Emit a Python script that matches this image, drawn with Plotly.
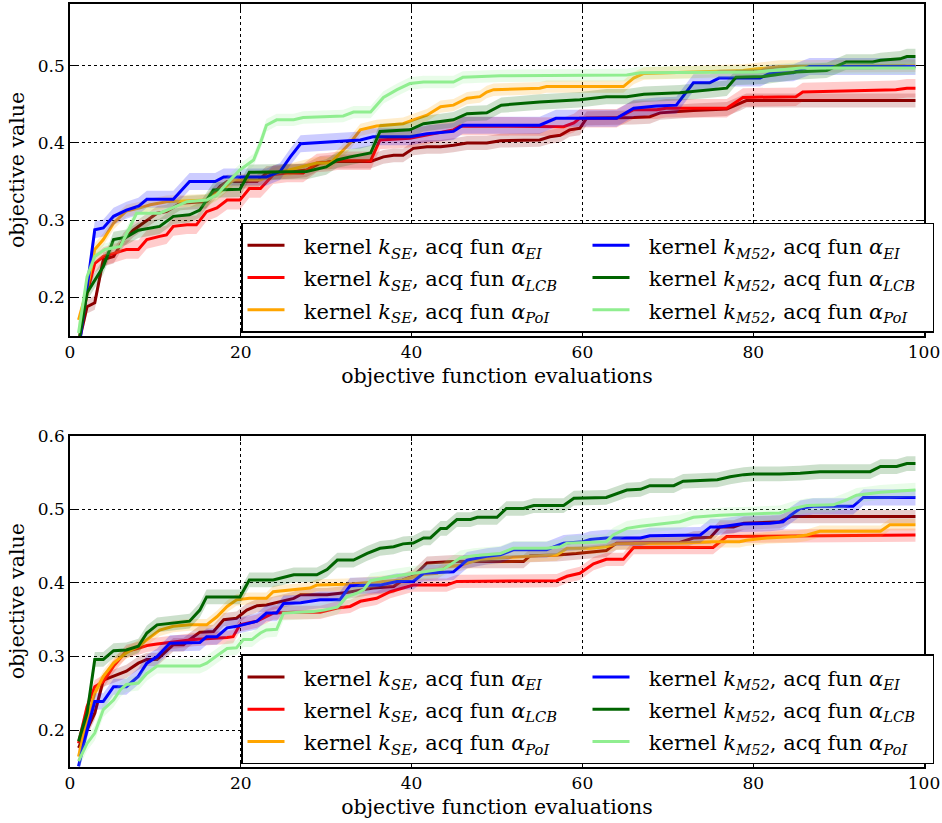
import plotly.graph_objects as go

# ---------------- data ----------------
series_names = ["SE_EI", "SE_LCB", "SE_PoI", "M52_EI", "M52_LCB", "M52_PoI"]
series_labels = [
    "kernel <i>k</i><sub><i>SE</i></sub>, acq fun <i>α</i><sub><i>EI</i></sub>",
    "kernel <i>k</i><sub><i>SE</i></sub>, acq fun <i>α</i><sub><i>LCB</i></sub>",
    "kernel <i>k</i><sub><i>SE</i></sub>, acq fun <i>α</i><sub><i>PoI</i></sub>",
    "kernel <i>k</i><sub><i>M52</i></sub>, acq fun <i>α</i><sub><i>EI</i></sub>",
    "kernel <i>k</i><sub><i>M52</i></sub>, acq fun <i>α</i><sub><i>LCB</i></sub>",
    "kernel <i>k</i><sub><i>M52</i></sub>, acq fun <i>α</i><sub><i>PoI</i></sub>",
]
series_colors = ["#8B0000", "#FF0000", "#FFA500", "#0000FF", "#006400", "#90EE90"]
legend_ranks = [1, 3, 5, 2, 4, 6]

# ---- top panel ----
top_se_ei_x = [1, 2, 2.9, 3.9, 5.1, 6.3, 7.4, 9, 10.2, 11.3, 12.9, 16, 17.6, 18.4, 21.9, 23, 26.2, 27.7, 29.3, 31.3, 35.2, 36.7, 37.9, 39, 40.2, 41.8, 43.4, 44.9, 46.5, 48.8, 50.4, 55, 56.2, 57.4, 58.5, 59.7, 60.5, 66, 67.9, 69.1, 73, 76.9, 78.5, 79.2, 99]
top_se_ei_y = [0.14, 0.188, 0.193, 0.249, 0.253, 0.275, 0.287, 0.3, 0.309, 0.311, 0.322, 0.324, 0.344, 0.35, 0.35, 0.361, 0.363, 0.365, 0.374, 0.376, 0.376, 0.382, 0.384, 0.384, 0.393, 0.395, 0.395, 0.397, 0.4, 0.4, 0.403, 0.404, 0.408, 0.41, 0.417, 0.419, 0.432, 0.433, 0.434, 0.439, 0.442, 0.444, 0.451, 0.455, 0.455]

top_se_lcb_x = [1, 2, 2.9, 3.9, 5.1, 6.6, 8, 9, 10.5, 11.3, 12.1, 13.7, 14.8, 16, 17.2, 18.4, 19.9, 21, 22.3, 23.8, 25.4, 27.3, 28.9, 30.1, 31.3, 35.2, 36.3, 37.9, 39.8, 44.9, 45.7, 57.8, 59, 59.7, 64, 66, 68.7, 69.8, 76.9, 78.8, 85, 85.8, 96.7, 98, 99]
top_se_lcb_y = [0.14, 0.206, 0.244, 0.253, 0.257, 0.262, 0.262, 0.275, 0.279, 0.281, 0.292, 0.294, 0.294, 0.311, 0.316, 0.326, 0.326, 0.341, 0.341, 0.359, 0.361, 0.361, 0.374, 0.375, 0.377, 0.377, 0.404, 0.405, 0.406, 0.417, 0.422, 0.421, 0.426, 0.432, 0.432, 0.443, 0.443, 0.445, 0.445, 0.459, 0.46, 0.466, 0.469, 0.471, 0.471]

top_se_poi_x = [1, 2, 2.9, 3.9, 5.1, 6.6, 8.2, 9.4, 11.3, 16, 17.6, 19.1, 22.3, 23.8, 28.9, 30.5, 32.8, 34, 35.9, 39, 40.2, 41.8, 43.4, 44.9, 46.5, 48, 48.8, 49.6, 55, 55.8, 64.8, 66, 67.2, 78.8, 80.5, 83.1, 99]
top_se_poi_y = [0.171, 0.21, 0.262, 0.275, 0.296, 0.312, 0.316, 0.32, 0.324, 0.326, 0.337, 0.352, 0.352, 0.36, 0.374, 0.374, 0.4, 0.417, 0.422, 0.425, 0.43, 0.436, 0.447, 0.449, 0.458, 0.46, 0.466, 0.469, 0.471, 0.473, 0.473, 0.484, 0.49, 0.494, 0.496, 0.499, 0.5]

top_m52_ei_x = [1, 2.9, 3.9, 5.1, 6.6, 8, 9, 12.1, 14, 17, 18, 23, 24.6, 25.8, 27, 28.5, 34, 35.5, 39.8, 41.8, 44.9, 46, 55, 56.9, 64, 66, 68.7, 71, 73, 74.9, 76, 80.8, 81.9, 84.7, 86.6, 99]
top_m52_ei_y = [0.13, 0.2875, 0.29, 0.305, 0.313, 0.318, 0.327, 0.327, 0.35, 0.35, 0.356, 0.356, 0.363, 0.382, 0.399, 0.4, 0.404, 0.408, 0.408, 0.412, 0.415, 0.423, 0.423, 0.432, 0.432, 0.445, 0.448, 0.449, 0.478, 0.478, 0.484, 0.484, 0.49, 0.491, 0.499, 0.499]

top_m52_lcb_x = [1, 2, 3.9, 5.1, 6.6, 8, 10.5, 12.1, 14, 15.2, 16.8, 19.9, 21, 27.7, 30, 31.3, 32.8, 35.2, 36.3, 39.8, 41.4, 44.9, 46.5, 48.8, 50.5, 55, 59.7, 61.3, 62.8, 65.2, 67.2, 71.4, 75.3, 76.9, 78, 81.2, 83.1, 85, 88.6, 90.9, 94, 94.9, 97.2, 98, 99]
top_m52_lcb_y = [0.14, 0.206, 0.24, 0.275, 0.278, 0.287, 0.292, 0.305, 0.307, 0.313, 0.339, 0.34, 0.362, 0.363, 0.369, 0.378, 0.382, 0.387, 0.415, 0.417, 0.425, 0.43, 0.438, 0.439, 0.449, 0.453, 0.456, 0.458, 0.46, 0.46, 0.463, 0.465, 0.469, 0.471, 0.485, 0.486, 0.489, 0.492, 0.494, 0.505, 0.505, 0.507, 0.509, 0.512, 0.512]

top_m52_poi_x = [1, 2, 2.9, 4.1, 5.9, 7.8, 10.5, 12.1, 13.7, 16, 17.2, 18.4, 19.9, 21.5, 22.3, 23, 24.2, 26.2, 27.3, 32, 33.2, 35.2, 36.7, 38.3, 39.8, 41.4, 44.9, 46, 50.4, 65.2, 66.8, 80.5, 85.6, 99]
top_m52_poi_y = [0.154, 0.227, 0.253, 0.262, 0.266, 0.309, 0.309, 0.316, 0.324, 0.326, 0.333, 0.348, 0.365, 0.378, 0.4, 0.423, 0.43, 0.43, 0.433, 0.435, 0.44, 0.44, 0.459, 0.469, 0.477, 0.479, 0.479, 0.485, 0.487, 0.488, 0.491, 0.492, 0.497, 0.497]

top_err = [0.009, 0.012, 0.008, 0.011, 0.01, 0.008]

# ---- bottom panel ----
bot_se_ei_x = [1, 2, 2.9, 3.9, 5.1, 6.6, 8, 9, 10.2, 11.3, 12.1, 13.3, 14, 15.2, 16.8, 18, 19.5, 20.7, 21.9, 23, 24.6, 26.2, 27, 30.1, 32.4, 35.5, 37.9, 39, 40.2, 41, 41.8, 44.9, 53.1, 53.9, 57, 59.3, 62.8, 64, 71.4, 73, 75, 76.1, 77.7, 78.9, 83.1, 84.4, 99]
bot_se_ei_y = [0.176, 0.2, 0.223, 0.268, 0.273, 0.28, 0.291, 0.296, 0.296, 0.307, 0.316, 0.316, 0.323, 0.333, 0.334, 0.35, 0.352, 0.363, 0.369, 0.37, 0.375, 0.379, 0.384, 0.384, 0.387, 0.393, 0.395, 0.404, 0.409, 0.418, 0.427, 0.429, 0.429, 0.437, 0.438, 0.44, 0.444, 0.454, 0.455, 0.461, 0.462, 0.476, 0.476, 0.481, 0.483, 0.49, 0.49]

bot_se_lcb_x = [1, 2, 2.9, 3.9, 5.1, 6.6, 8, 9, 10.2, 14.5, 18.4, 19.1, 19.9, 21.9, 23.8, 26.2, 29.3, 31.3, 32.8, 34, 35.9, 37.5, 39, 40.2, 44.1, 45.3, 57, 58.2, 59.7, 61.3, 62.8, 64.8, 66, 75.3, 76.9, 99]
bot_se_lcb_y = [0.182, 0.232, 0.259, 0.266, 0.287, 0.307, 0.311, 0.315, 0.317, 0.323, 0.326, 0.327, 0.343, 0.348, 0.359, 0.36, 0.36, 0.366, 0.368, 0.375, 0.379, 0.388, 0.393, 0.397, 0.397, 0.402, 0.403, 0.409, 0.413, 0.426, 0.432, 0.432, 0.448, 0.448, 0.463, 0.465]

bot_se_poi_x = [1, 2, 2.9, 3.9, 5.1, 6.6, 8, 9, 10.5, 12.1, 14, 16, 17.2, 18.4, 19.5, 21, 23, 23.8, 26.2, 28.1, 28.9, 32.4, 39, 41, 43, 44.1, 45.7, 48, 53.1, 57, 58.2, 60.9, 62.8, 64, 71.4, 75.3, 78.4, 79.2, 81.6, 85.1, 86.3, 87.8, 94.9, 96, 99]
bot_se_poi_y = [0.164, 0.214, 0.25, 0.273, 0.291, 0.305, 0.314, 0.323, 0.336, 0.341, 0.343, 0.343, 0.354, 0.368, 0.377, 0.379, 0.379, 0.388, 0.391, 0.393, 0.397, 0.398, 0.404, 0.411, 0.413, 0.422, 0.424, 0.432, 0.436, 0.438, 0.447, 0.447, 0.449, 0.453, 0.454, 0.456, 0.456, 0.458, 0.461, 0.463, 0.465, 0.47, 0.47, 0.479, 0.479]

bot_m52_ei_x = [1, 2, 2.9, 3.9, 5.1, 6.6, 8, 9, 10.2, 11.7, 15.2, 16, 17.2, 18.4, 19.5, 20.7, 21.9, 23, 24.2, 25, 27, 29.3, 31.6, 32.8, 36.3, 38.3, 40.2, 41.4, 42.6, 44.9, 46.5, 48.8, 50.4, 51.9, 55.8, 57.8, 60.1, 60.9, 62.8, 66.8, 67.9, 73.8, 75, 76.1, 78.5, 82, 83.5, 84.4, 85.5, 87, 91.7, 92.9, 99]
bot_m52_ei_y = [0.151, 0.2, 0.239, 0.239, 0.259, 0.259, 0.273, 0.291, 0.3, 0.318, 0.319, 0.327, 0.327, 0.339, 0.341, 0.345, 0.348, 0.359, 0.359, 0.372, 0.373, 0.377, 0.377, 0.396, 0.397, 0.402, 0.402, 0.413, 0.414, 0.415, 0.431, 0.436, 0.438, 0.445, 0.445, 0.454, 0.456, 0.459, 0.461, 0.461, 0.464, 0.465, 0.476, 0.476, 0.48, 0.481, 0.483, 0.492, 0.501, 0.504, 0.504, 0.516, 0.516]

bot_m52_lcb_x = [1, 2, 2.9, 3.9, 5.1, 6.6, 8, 9, 10.2, 12.1, 14, 15.2, 16, 19.9, 21, 23.8, 26.2, 28.9, 30.1, 31.3, 33.2, 34.8, 36.3, 37.9, 39, 40.2, 41.4, 42.2, 43.4, 44.1, 45.3, 46.9, 47.7, 50, 51.1, 53.1, 54.3, 57.8, 59, 62.8, 64, 65.2, 66.8, 67.9, 70.7, 71.8, 75.8, 77.3, 78.9, 80, 83.1, 85.5, 87.8, 93.7, 94.9, 96.8, 98, 99]
bot_m52_lcb_y = [0.185, 0.223, 0.296, 0.296, 0.308, 0.309, 0.314, 0.332, 0.343, 0.345, 0.348, 0.363, 0.381, 0.381, 0.404, 0.404, 0.411, 0.411, 0.418, 0.431, 0.431, 0.44, 0.447, 0.449, 0.453, 0.454, 0.461, 0.461, 0.474, 0.474, 0.486, 0.486, 0.489, 0.489, 0.501, 0.501, 0.505, 0.505, 0.515, 0.516, 0.521, 0.526, 0.527, 0.532, 0.532, 0.538, 0.54, 0.544, 0.547, 0.548, 0.548, 0.549, 0.551, 0.551, 0.558, 0.558, 0.562, 0.562]

bot_m52_poi_x = [1, 2, 2.9, 3.9, 5.1, 5.9, 6.6, 8, 9, 10.2, 15.2, 16, 17.2, 18.4, 19.5, 20.3, 21.3, 22.3, 23, 24.2, 25, 28.5, 29.7, 31.3, 32.4, 33.6, 34.4, 35.2, 37.9, 40.2, 41.8, 43.8, 45.7, 47.3, 50.4, 51.9, 55.8, 57.4, 58.2, 62.8, 63.6, 65.2, 66.8, 71.4, 73, 76.1, 83.1, 84.7, 86.3, 89.4, 91, 92.1, 94.9, 98, 99]
bot_m52_poi_y = [0.158, 0.182, 0.196, 0.228, 0.241, 0.255, 0.262, 0.264, 0.277, 0.287, 0.287, 0.291, 0.301, 0.311, 0.312, 0.323, 0.323, 0.332, 0.336, 0.337, 0.359, 0.361, 0.363, 0.367, 0.381, 0.386, 0.391, 0.403, 0.409, 0.413, 0.415, 0.419, 0.434, 0.437, 0.44, 0.447, 0.447, 0.449, 0.454, 0.456, 0.465, 0.474, 0.477, 0.483, 0.489, 0.492, 0.495, 0.501, 0.505, 0.506, 0.513, 0.519, 0.523, 0.526, 0.526]

bot_err = [0.009, 0.009, 0.008, 0.011, 0.01, 0.01]

x_ticks = [0, 20, 40, 60, 80, 100]
top_y_ticks = [0.2, 0.3, 0.4, 0.5]
bot_y_ticks = [0.2, 0.3, 0.4, 0.5, 0.6]
x_title = "objective function evaluations"
y_title = "objective value"

top_series = [(top_se_ei_x, top_se_ei_y), (top_se_lcb_x, top_se_lcb_y), (top_se_poi_x, top_se_poi_y),
              (top_m52_ei_x, top_m52_ei_y), (top_m52_lcb_x, top_m52_lcb_y), (top_m52_poi_x, top_m52_poi_y)]
bot_series = [(bot_se_ei_x, bot_se_ei_y), (bot_se_lcb_x, bot_se_lcb_y), (bot_se_poi_x, bot_se_poi_y),
              (bot_m52_ei_x, bot_m52_ei_y), (bot_m52_lcb_x, bot_m52_lcb_y), (bot_m52_poi_x, bot_m52_poi_y)]

# ---------------- figure ----------------
FONT = "DejaVu Serif"
W, H = 942, 823


def rgba(hexc, a):
    h = hexc.lstrip("#")
    r, g, b = int(h[0:2], 16), int(h[2:4], 16), int(h[4:6], 16)
    return f"rgba({r},{g},{b},{a})"


fig = go.Figure()

panels = [
    (top_series, top_err, "x", "y", "legend"),
    (bot_series, bot_err, "x2", "y2", "legend2"),
]
for series, errs, xa, ya, leg in panels:
    for i, (xs, ys) in enumerate(series):
        col = series_colors[i]
        up = [v + errs[i] for v in ys]
        lo = [v - errs[i] for v in ys]
        fig.add_trace(go.Scatter(
            x=list(xs) + list(xs)[::-1], y=up + lo[::-1],
            fill="toself", fillcolor=rgba(col, 0.2), line=dict(width=0),
            mode="lines", hoverinfo="skip", showlegend=False,
            xaxis=xa, yaxis=ya))
        fig.add_trace(go.Scatter(
            x=xs, y=ys, mode="lines", line=dict(color=col, width=3),
            name="\u00a0\u00a0<span style='font-size:21px'>" + series_labels[i] + "</span>",
            legend=leg, legendrank=legend_ranks[i],
            xaxis=xa, yaxis=ya))

axis_common = dict(
    showline=True, linecolor="black", linewidth=1.5, mirror="allticks",
    ticks="inside", ticklen=6, tickwidth=1, tickcolor="black",
    showgrid=True, gridcolor="black", gridwidth=1, griddash="dot",
    zeroline=False, automargin=False, ticklabeloverflow="allow",
    tickfont=dict(family=FONT, size=17, color="black"),
)

x_dom = [70 / W, 924 / W]
top_dom = [1 - 336 / H, 1 - 4 / H]
bot_dom = [1 - 767 / H, 1 - 435.6 / H]

leg_common = dict(xanchor="left", yanchor="top",
                  orientation="h", entrywidth=293, entrywidthmode="pixels",
                  bgcolor="white", bordercolor="black", borderwidth=1.5,
                  font=dict(family=FONT, size=22.5, color="black"), itemwidth=37)

fig.update_layout(
    width=W, height=H,
    margin=dict(l=0, r=0, t=0, b=0),
    paper_bgcolor="white", plot_bgcolor="white",
    font=dict(family=FONT, size=20, color="black"),
    xaxis=dict(domain=x_dom, anchor="y", range=[0, 100], tickvals=x_ticks,
               title=dict(text=x_title, font=dict(family=FONT, size=20.5), standoff=7), **axis_common),
    yaxis=dict(domain=top_dom, anchor="x", range=[0.15, 0.58], tickvals=top_y_ticks, tickformat=".1f",
               title=dict(text=y_title, font=dict(family=FONT, size=20.5), standoff=8), **axis_common),
    xaxis2=dict(domain=x_dom, anchor="y2", range=[0, 100], tickvals=x_ticks,
                title=dict(text=x_title, font=dict(family=FONT, size=20.5), standoff=7), **axis_common),
    yaxis2=dict(domain=bot_dom, anchor="x2", range=[0.15, 0.6], tickvals=bot_y_ticks, tickformat=".1f",
                title=dict(text=y_title, font=dict(family=FONT, size=20.5), standoff=8), **axis_common),
    legend=dict(x=241 / W, y=1 - 222.7 / H, **leg_common),
    legend2=dict(x=241 / W, y=1 - 654.3 / H, **leg_common),
)

fig.write_html("out.html")
